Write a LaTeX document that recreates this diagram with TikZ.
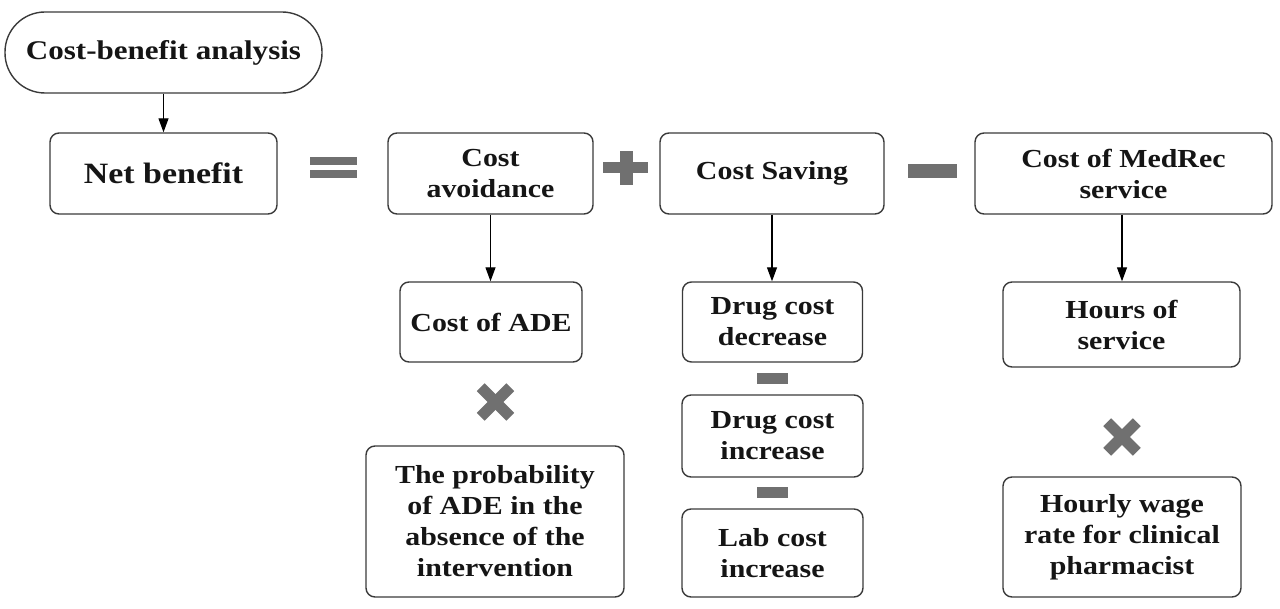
\documentclass[tikz,border=0pt]{standalone}
\usepackage{fontspec}
\setmainfont{Liberation Serif}[FakeStretch=1.15]
\usetikzlibrary{arrows.meta}
\definecolor{symgray}{HTML}{707070}
\definecolor{edge}{HTML}{3A3A3A}
\definecolor{txt}{HTML}{151515}
\tikzset{
  box/.style={draw=edge, line width=1.4pt, rounded corners=9pt, align=center,
    inner sep=0pt, text=txt, font=\fontsize{26}{31}\selectfont\bfseries},
  conn/.style={draw=black, line width=1.2pt, -{Triangle[length=14pt,width=10pt]}},
  sym/.style={fill=symgray, draw=none}
}
\begin{document}
\begin{tikzpicture}[x=1pt,y=-1pt]
\useasboundingbox (0,0) rectangle (1280,609);
% top row
\node[box, rounded corners=40pt, minimum width=317pt, minimum height=81pt, font=\fontsize{27}{31}\selectfont\bfseries] (cba) at (163.5,52.5) {Cost-benefit analysis};
\node[box, minimum width=227pt, minimum height=81pt, font=\fontsize{29.5}{31}\selectfont\bfseries] (net) at (163.5,173.5) {Net benefit};
\node[box, minimum width=205pt, minimum height=81pt] (cav) at (490.5,173.5) {Cost\\avoidance};
\node[box, minimum width=224pt, minimum height=81pt] (csv) at (772,173.5) {Cost Saving};
\node[box, minimum width=297pt, minimum height=81pt] (med) at (1123.5,173.5) {Cost of MedRec\\service};
% second row
\node[box, minimum width=182pt, minimum height=80pt] (ade) at (491,322) {Cost of ADE};
\node[box, minimum width=180pt, minimum height=80pt] (dcd) at (772.5,322) {Drug cost\\decrease};
\node[box, minimum width=237pt, minimum height=85pt] (hrs) at (1121.5,324.5) {Hours of\\service};
% third row
\node[box, minimum width=181pt, minimum height=82pt] (dci) at (772.5,436) {Drug cost\\increase};
\node[box, minimum width=181pt, minimum height=88pt] (lab) at (772.5,553) {Lab cost\\increase};
\node[box, minimum width=258pt, minimum height=151pt] (prb) at (495,521.5) {The probability\\of ADE in the\\absence of the\\intervention};
\node[box, minimum width=238pt, minimum height=120pt] (wag) at (1122,537) {Hourly wage\\rate for clinical\\pharmacist};
% connectors
\draw[conn] (cba.south) -- (cba.south |- net.north);
\draw[conn] (cav.south) -- (cav.south |- ade.north);
\draw[conn] (csv.south) -- (csv.south |- dcd.north);
\draw[conn] ([xshift=-1.5pt]med.south) -- ([xshift=-1.5pt]med.south |- hrs.north);
% operator symbols
\fill[sym] (310,157) rectangle (357,165);
\fill[sym] (310,170) rectangle (357,178);
\fill[sym] (603,162) rectangle (648,173);
\fill[sym] (620,151) rectangle (633,185);
\fill[sym] (908,164) rectangle (957,178);
\fill[sym] (757,373) rectangle (788,384);
\fill[sym] (757,487) rectangle (788,498);
\foreach \cx/\cy in {495.5/402, 1122/437}{
  \fill[sym, rotate around={45:(\cx,\cy)}] (\cx-21,\cy-5.5) rectangle (\cx+21,\cy+5.5);
  \fill[sym, rotate around={-45:(\cx,\cy)}] (\cx-21,\cy-5.5) rectangle (\cx+21,\cy+5.5);
}
\end{tikzpicture}
\end{document}
